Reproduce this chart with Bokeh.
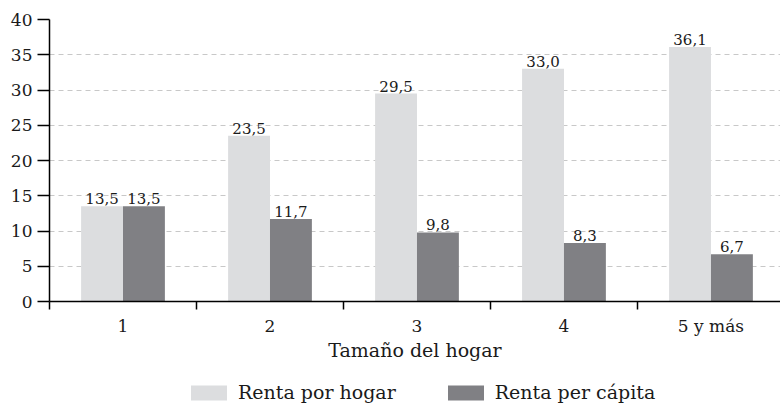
from bokeh.plotting import figure
from bokeh.layouts import column
from bokeh.models import (ColumnDataSource, FixedTicker, Range1d, Legend, LegendItem)
from bokeh.transform import dodge
from bokeh.core.properties import value
from bokeh.embed import file_html
from bokeh.resources import INLINE

categories = ["1", "2", "3", "4", "5 y más"]
renta_hogar = [13.5, 23.5, 29.5, 33.0, 36.1]
renta_per_capita = [13.5, 11.7, 9.8, 8.3, 6.7]
y_ticks = [0, 5, 10, 15, 20, 25, 30, 35, 40]
x_title = "Tamaño del hogar"
series_names = ["Renta por hogar", "Renta per cápita"]

FONT = "DejaVu Serif"
LIGHT = "#dcdddf"
DARK = "#808084"
TXT = "#1a1a1a"

centers = [i + 0.5 for i in range(len(categories))]
fmt = lambda v: f"{v:.1f}".replace(".", ",")
src = ColumnDataSource(dict(
    x=centers, hogar=renta_hogar, capita=renta_per_capita,
    hogar_lbl=[fmt(v) for v in renta_hogar],
    capita_lbl=[fmt(v) for v in renta_per_capita],
))

p = figure(frame_width=731, frame_height=282, output_backend="svg", toolbar_location=None,
           x_range=Range1d(0, 4.973), y_range=Range1d(0, 40),
           min_border_left=49, min_border_top=19, min_border_right=0,
           min_border_bottom=66)
p.outline_line_color = None
p.background_fill_color = "white"

off = 0.1425
bw = 0.285
p.vbar(x=dodge("x", -off), top="hogar", width=bw, source=src,
       fill_color=LIGHT, line_color=None)
p.vbar(x=dodge("x", off), top="capita", width=bw, source=src,
       fill_color=DARK, line_color=None)

for col, lbl, d in [("hogar", "hogar_lbl", -off), ("capita", "capita_lbl", off)]:
    p.text(x=dodge("x", d), y=col, text=lbl, source=src, y_offset=-2,
           text_align="center", text_baseline="bottom",
           text_font=value(FONT), text_font_size="15px", text_color=TXT)

# Y axis
p.yaxis.ticker = FixedTicker(ticks=y_ticks)
p.yaxis.axis_line_color = "black"
p.yaxis.axis_line_width = 1.5
p.yaxis.major_tick_line_color = "black"
p.yaxis.major_tick_line_width = 1.5
p.yaxis.major_tick_out = 12
p.yaxis.major_tick_in = 0
p.yaxis.minor_tick_line_color = None
p.yaxis.major_label_standoff = 5
p.yaxis.major_label_text_font = FONT
p.yaxis.major_label_text_font_size = "17px"
p.yaxis.major_label_text_color = TXT

# X axis
p.xaxis.ticker = FixedTicker(ticks=centers, minor_ticks=list(range(len(categories))))
p.xaxis.major_label_overrides = {c: n for c, n in zip(centers, categories)}
p.xaxis.axis_line_color = "black"
p.xaxis.axis_line_width = 1.5
p.xaxis.major_tick_line_color = None
p.xaxis.major_tick_out = 0
p.xaxis.major_tick_in = 0
p.xaxis.minor_tick_line_color = "black"
p.xaxis.minor_tick_line_width = 1.5
p.xaxis.minor_tick_out = 8
p.xaxis.minor_tick_in = 0
p.xaxis.major_label_standoff = 6
p.xaxis.major_label_text_font = FONT
p.xaxis.major_label_text_font_size = "17px"
p.xaxis.major_label_text_color = TXT
p.xaxis.axis_label = x_title
p.xaxis.axis_label_text_font = FONT
p.xaxis.axis_label_text_font_size = "19px"
p.xaxis.axis_label_text_font_style = "normal"
p.xaxis.axis_label_text_color = TXT
p.xaxis.axis_label_standoff = 0

p.xgrid.grid_line_color = None
p.ygrid.ticker = FixedTicker(ticks=y_ticks[1:])
p.ygrid.grid_line_color = "#c8c8c8"
p.ygrid.grid_line_dash = "5 4"
p.ygrid.grid_line_width = 1

# Legend strip below the chart (invisible zero-size proxy bars carry the swatch styles)
lg = figure(width=780, height=40, output_backend="svg", toolbar_location=None,
            x_range=Range1d(0, 5), y_range=Range1d(-2, -1),
            min_border=0, x_axis_type=None, y_axis_type=None)
lg.outline_line_color = None
lg.grid.visible = False
g1 = lg.vbar(x="x", top="hogar", bottom="hogar", width=0, source=src,
             fill_color=LIGHT, line_color=None)
g2 = lg.vbar(x="x", top="capita", bottom="capita", width=0, source=src,
             fill_color=DARK, line_color=None)
legend = Legend(items=[LegendItem(label=series_names[0], renderers=[g1]),
                       LegendItem(label=series_names[1], renderers=[g2])],
                orientation="horizontal", location=(137, 4),
                border_line_color=None, background_fill_alpha=0,
                glyph_width=45, glyph_height=19, spacing=47,
                label_text_font=FONT, label_text_font_size="19px",
                label_text_color=TXT, label_standoff=7, padding=0,
                margin=0)
lg.add_layout(legend)

open("out.html", "w").write(file_html(column(p, lg, spacing=0), INLINE))
